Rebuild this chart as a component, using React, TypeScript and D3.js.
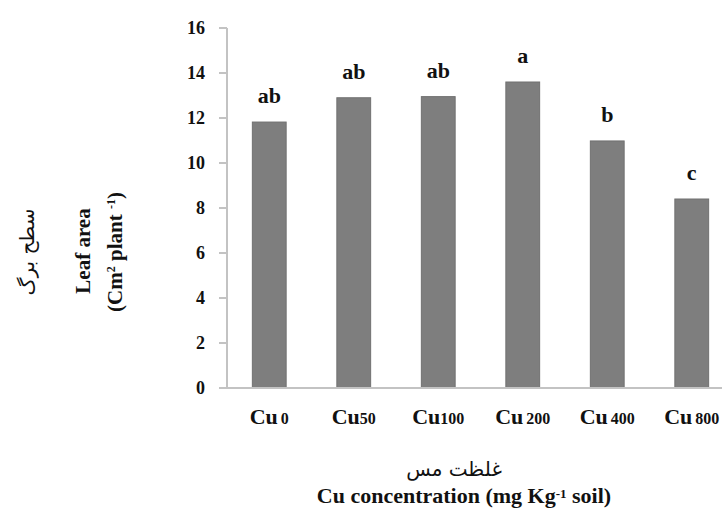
import React from "react";
import * as d3 from "d3";

const categories = ["Cu0", "Cu50", "Cu100", "Cu200", "Cu400", "Cu800"];
const labelNums = ["0", "50", "100", "200", "400", "800"];
const values = [11.82, 12.9, 12.95, 13.6, 10.98, 8.4];
const letters = ["ab", "ab", "ab", "a", "b", "c"];
const yTicks = [0, 2, 4, 6, 8, 10, 12, 14, 16];

const W = 722;
const H = 517;
const serif = "Liberation Serif";
const arabic = "DejaVu Sans";

export default function App() {
  const x = d3
    .scaleBand<string>()
    .domain(categories)
    .range([227, 734])
    .paddingInner(0.6)
    .paddingOuter(0.3);
  const y = d3.scaleLinear().domain([0, 16]).range([388, 28]);
  const axisColor = "#c3c3c3";

  return (
    <svg
      width={W}
      height={H}
      style={{ position: "absolute", left: 0, top: 0, background: "#fff" }}
    >
      <rect x={0} y={0} width={W} height={H} fill="#fff" />
      {/* y axis */}
      <line x1={227} x2={227} y1={y(16)} y2={y(0)} stroke={axisColor} strokeWidth={2} />
      {yTicks.map((t) => (
        <g key={t}>
          <line x1={219} x2={227} y1={y(t)} y2={y(t)} stroke={axisColor} strokeWidth={2} />
          <text
            x={205}
            y={y(t) + 6}
            textAnchor="end"
            style={{ fontFamily: serif }}
            fontWeight="bold"
            fontSize={18}
            fill="#111"
          >
            {t}
          </text>
        </g>
      ))}
      {/* bars */}
      {categories.map((c, i) => (
        <g key={c}>
          <rect
            x={x(c)!}
            y={y(values[i])}
            width={x.bandwidth()}
            height={y(0) - y(values[i])}
            fill="#7e7e7e"
            stroke="#707070"
            strokeWidth={1}
          />
          <text
            x={x(c)! + x.bandwidth() / 2}
            y={y(values[i]) - 19}
            textAnchor="middle"
            style={{ fontFamily: serif }}
            fontWeight="bold"
            fontSize={22}
            fill="#111"
          >
            {letters[i]}
          </text>
          <text
            x={x(c)! + x.bandwidth() / 2}
            y={424}
            textAnchor="middle"
            style={{ fontFamily: serif }}
            fontWeight="bold"
            fontSize={22}
            fill="#111"
          >
            Cu
            <tspan fontSize={16} dx={i === 0 || i >= 3 ? 3 : 0}>
              {labelNums[i]}
            </tspan>
          </text>
        </g>
      ))}
      {/* x axis */}
      <line x1={219} x2={722} y1={388} y2={388} stroke={axisColor} strokeWidth={2} />

      {/* x titles */}
      <text
        x={454}
        y={476}
        textAnchor="middle"
        style={{ fontFamily: arabic }}
        fontSize={20}
        fill="#111"
        direction="rtl"
      >
        غلظت مس
      </text>
      <text
        x={464}
        y={503}
        textAnchor="middle"
        style={{ fontFamily: serif }}
        fontWeight="bold"
        fontSize={22}
        fill="#111"
      >
        Cu concentration (mg Kg
        <tspan fontSize={13} dy={-5}>-1</tspan>
        <tspan dy={5}> soil)</tspan>
      </text>

      {/* y titles */}
      <text
        transform="translate(34,252) rotate(-90)"
        textAnchor="middle"
        style={{ fontFamily: arabic }}
        fontSize={20}
        fill="#111"
        direction="rtl"
      >
        سطح برگ
      </text>
      <text
        transform="translate(90,251) rotate(-90)"
        textAnchor="middle"
        style={{ fontFamily: serif }}
        fontWeight="bold"
        fontSize={21}
        fill="#111"
      >
        Leaf area
      </text>
      <text
        transform="translate(122,252) rotate(-90)"
        textAnchor="middle"
        style={{ fontFamily: serif }}
        fontWeight="bold"
        fontSize={21}
        fill="#111"
      >
        (Cm
        <tspan fontSize={12} dy={-7}>2</tspan>
        <tspan dy={7}> plant </tspan>
        <tspan fontSize={12} dy={-7}>-1</tspan>
        <tspan dy={7}>)</tspan>
      </text>
    </svg>
  );
}
